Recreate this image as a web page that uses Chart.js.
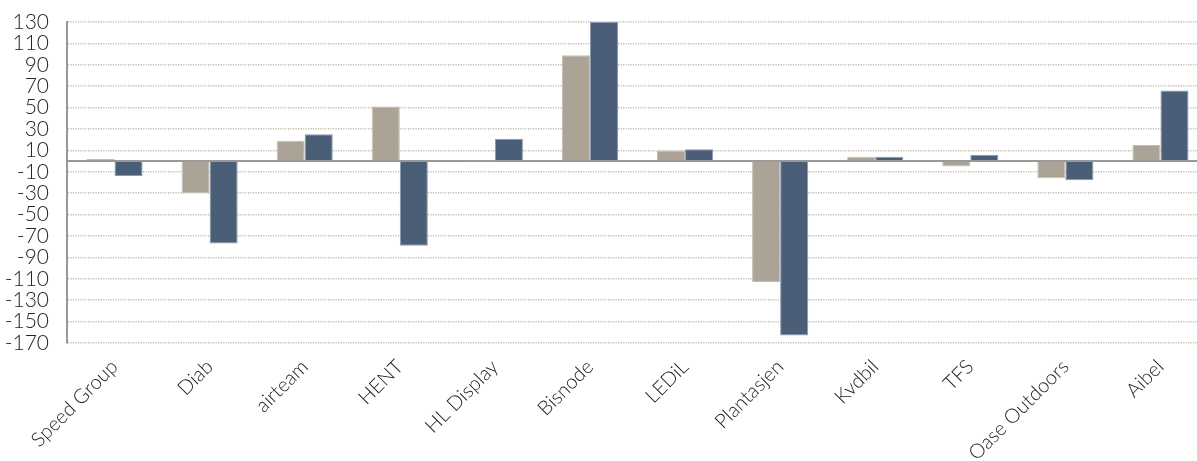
<!DOCTYPE html>
<html>
<head>
<meta charset="utf-8">
<script src="https://cdn.jsdelivr.net/npm/chart.js@4/dist/chart.umd.min.js"></script>
<style>
    html, body { margin: 0; padding: 0; background: #fff; overflow: hidden; }
    #wrap { width: 1208px; height: 461px; position: relative; }
</style>
</head>
<body>
<div id="wrap"><canvas id="chartBars"></canvas></div>
<script>
const categories = ['Speed Group', 'Diab', 'airteam', 'HENT', 'HL Display', 'Bisnode', 'LEDiL', 'Plantasjen', 'Kvdbil', 'TFS', 'Oase Outdoors', 'Aibel'];
const seriesA = [2, -30, 19, 51, -1, 99, 10, -113, 4, -5, -16, 15];
const seriesB = [-14, -77, 25, -79, 21, 130, 11, -163, 4, 6, -18, 66];
const yMin = -170;
const yMax = 130;
const yStep = 20;

const tan = '#aba395';
const slate = '#4a5e78';
const dots = '#c6bdad';
const axis = '#999999';
const text = '#222222';

// solid line at zero (0 is not one of the ticks)
const zeroLine = {
    id: 'zeroLine',
    afterDatasetsDraw(chart) {
        const y = chart.scales.y.getPixelForValue(0);
        const { left, right } = chart.chartArea;
        const ctx = chart.ctx;
        ctx.save();
        ctx.strokeStyle = axis;
        ctx.lineWidth = 2;
        ctx.beginPath();
        ctx.moveTo(left, y);
        ctx.lineTo(right, y);
        ctx.stroke();
        ctx.restore();
    }
};

new Chart(document.getElementById('chartBars'), {
    type: 'bar',
    data: {
        labels: categories,
        datasets: [
            {
                label: 'A',
                data: seriesA,
                backgroundColor: tan,
                borderColor: '#c4bdb1',
                borderWidth: 1,
            },
            {
                label: 'B',
                data: seriesB,
                backgroundColor: slate,
                borderColor: '#8a99ae',
                borderWidth: 1,
            }
        ]
    },
    options: {
        responsive: true,
        maintainAspectRatio: false,
        animation: false,
        categoryPercentage: 0.59,
        barPercentage: 1,
        layout: { padding: { top: 22, left: 0, right: 0, bottom: 0 } },
        plugins: {
            legend: { display: false },
            tooltip: { enabled: false }
        },
        scales: {
            x: {
                grid: { display: false },
                border: { display: false },
                afterFit: s => { s.height = 118; s.paddingLeft = 0; s.paddingRight = 0; },
                ticks: {
                    color: text,
                    font: { family: 'Lato', size: 20, weight: 300 },
                    minRotation: 45,
                    maxRotation: 45,
                    autoSkip: false,
                    padding: 4
                }
            },
            y: {
                min: yMin,
                max: yMax,
                afterFit: s => { s.width = 67; s.paddingTop = 0; s.paddingBottom = 0; },
                grid: {
                    color: dots,
                    lineWidth: 1.5,
                    drawTicks: false
                },
                // in v4 border.dash styles the grid lines
                border: { display: true, color: axis, width: 2, dash: [1.2, 1.3] },
                ticks: {
                    stepSize: yStep,
                    autoSkip: false,
                    color: text,
                    padding: 18,
                    font: { family: 'Lato', size: 21, weight: 300 }
                }
            }
        }
    },
    plugins: [zeroLine]
});
</script>
</body>
</html>
